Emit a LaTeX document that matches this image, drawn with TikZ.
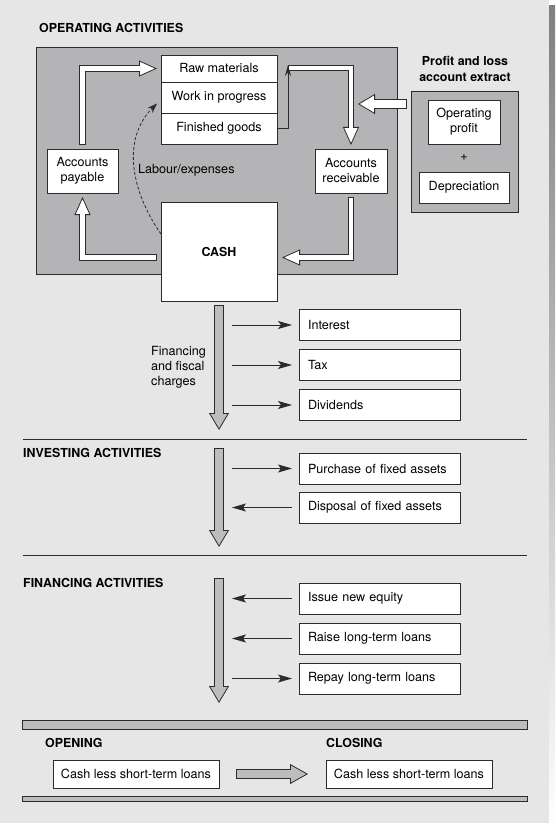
\documentclass[tikz,border=0pt]{standalone}
\usepackage{fontspec}
\setmainfont{TeX Gyre Heros}
\usetikzlibrary{arrows.meta,positioning}

\definecolor{ink}{HTML}{2B2B2B}
\definecolor{panel}{HTML}{E6E6E6}
\definecolor{shade}{HTML}{B9B9B9}
\definecolor{zone}{HTML}{B4B4B6}
\definecolor{flow}{HTML}{BDBDBD}

% fill, outer width, inner width, head width, head length, path
\newcommand\fatarrow[6]{%
  \draw[draw=ink, line width=#2,
    -{Triangle[fill=#1, line width=0.8pt, width=#4, length=#5]}] #6;
  \draw[draw=#1, line width=#3, shorten <=0.8pt, shorten >=#5-1.5pt] #6;}

\begin{document}
\begin{tikzpicture}[x=1pt, y=-1pt, font=\fontsize{12.6}{15}\selectfont,
    box/.style={draw=ink, line width=0.9pt, fill=white, inner sep=0pt, outer sep=0pt, align=center},
    item/.style={box, minimum width=161pt, minimum height=31pt, text width=143pt, inner xsep=9pt, align=left},
    head/.style={font=\fontsize{12.4}{15}\selectfont\bfseries, anchor=base west, inner sep=0pt},
    thin/.style={draw=ink, line width=0.9pt, -{Stealth[length=14pt, width=8pt, inset=3pt]}}]

  % Background
  \fill[shade] (6,6) rectangle (555,829);
  \fill[panel] (0,0) rectangle (549,823);
  \useasboundingbox (0,0) rectangle (555,829);

  % Operating activities
  \node[head] at (39,33) {OPERATING ACTIVITIES};
  \filldraw[fill=zone, draw=ink, line width=0.9pt] (36,47) rectangle (397,274);

  \node[box, minimum width=116pt, minimum height=27pt] (raw) at (219,68.5) {Raw materials};
  \node[box, minimum width=116pt, minimum height=31pt, below=0pt of raw] (wip) {Work in progress};
  \node[box, minimum width=116pt, minimum height=31pt, below=0pt of wip] (fin) {Finished goods};
  \node[box, minimum width=71pt, minimum height=44pt] (pay) at (82.5,171) {Accounts\\payable};
  \node[box, minimum width=72pt, minimum height=44pt] (rec) at (351,171) {Accounts\\receivable};
  \node[box, minimum width=116pt, minimum height=99pt,
    font=\fontsize{12.4}{15}\selectfont\bfseries] (cash) at (219,251.5) {CASH};
  \node[anchor=base west, inner sep=0pt] at (138,174) {Labour/expenses};

  % Profit and loss account extract
  \node[font=\fontsize{12.4}{15.5}\selectfont\bfseries, align=center, inner sep=0pt]
    at (465,69) {Profit and loss\\account extract};
  \node[draw=ink, line width=0.9pt, fill=zone, minimum width=107pt, minimum height=121pt,
    inner sep=0pt, outer sep=0pt] (pl) at (464.5,151.5) {};
  \node[box, minimum width=72pt, minimum height=44pt] (op) at (464,122) {Operating\\profit};
  \node at (464,158) {+};
  \node[box, minimum width=90pt, minimum height=31pt] (dep) at (464,187.5) {Depreciation};

  % Operating cycle
  \coordinate (join) at (288,68);
  \coordinate (plin) at (358,104);
  \fatarrow{white}{6.5pt}{4.9pt}{16pt}{18pt}{([yshift=4pt]pay.north) |- ([xshift=-4pt]raw.west)}
  \fatarrow{white}{6.5pt}{4.9pt}{16pt}{18pt}{([xshift=-4pt,yshift=-6pt]cash.west) -| ([yshift=-4pt]pay.south)}
  \fatarrow{white}{6.5pt}{4.9pt}{16pt}{18pt}{(join) -| ([yshift=4pt]rec.north)}
  \fatarrow{white}{6.5pt}{4.9pt}{16pt}{18pt}{([yshift=-4pt]rec.south) |- ([xshift=5pt,yshift=-6pt]cash.east)}
  \fatarrow{white}{10pt}{8.4pt}{20pt}{17pt}{([xshift=-4pt,yshift=-13pt]pl.north west) -- (plin)}
  \draw[draw=ink, line width=0.9pt, -{Stealth[length=11pt, width=6pt]}]
    (fin.east) -| ([yshift=3pt]join);
  \draw[draw=ink, line width=0.8pt, dash pattern=on 3pt off 2pt, -{Stealth[length=10pt, width=7pt]}]
    ([yshift=-32pt]cash.north west) to[out=125, in=225] ([xshift=-4pt,yshift=-6pt]wip.west);

  % Financing and fiscal charges
  \node[item] (interest) at (379.5,325) {Interest};
  \node[item, below=9pt of interest] (tax) {Tax};
  \node[item, below=9pt of tax] (div) {Dividends};
  \node[align=left, anchor=west, inner sep=0pt] at (151,367) {Financing\\and fiscal\\charges};
  \fatarrow{flow}{9.5pt}{7.9pt}{20pt}{17pt}{([yshift=-4pt]cash.south) -- ++(0,125)}
  \draw[thin] ([xshift=13pt]interest.west -| cash.south) -- ([xshift=-7pt]interest.west);
  \draw[thin] ([xshift=13pt]tax.west -| cash.south) -- ([xshift=-7pt]tax.west);
  \draw[thin] ([xshift=13pt]div.west -| cash.south) -- ([xshift=-7pt]div.west);
  \draw[draw=ink, line width=0.8pt] (23,439) -- (527,439);

  % Investing activities
  \node[head] at (23,457) {INVESTING ACTIVITIES};
  \node[item] (purchase) at (379.5,468.5) {Purchase of fixed assets};
  \node[item, below=8pt of purchase] (disposal) {Disposal of fixed assets};
  \coordinate (invtop) at (219,448);
  \fatarrow{flow}{9.5pt}{7.9pt}{20pt}{17pt}{(invtop) -- ++(0,99)}
  \draw[thin] ([xshift=13pt]purchase.west -| cash.south) -- ([xshift=-7pt]purchase.west);
  \draw[thin] ([xshift=-7pt]disposal.west) -- ([xshift=13pt]disposal.west -| cash.south);
  \draw[draw=ink, line width=0.8pt] (23,555) -- (527,555);

  % Financing activities
  \node[head] at (23,587) {FINANCING ACTIVITIES};
  \node[item] (issue) at (379.5,598.5) {Issue new equity};
  \node[item, below=9pt of issue] (raise) {Raise long-term loans};
  \node[item, below=9pt of raise] (repay) {Repay long-term loans};
  \coordinate (fintop) at (219,578);
  \fatarrow{flow}{9.5pt}{7.9pt}{20pt}{17pt}{(fintop) -- ++(0,125)}
  \draw[thin] ([xshift=-7pt]issue.west) -- ([xshift=13pt]issue.west -| cash.south);
  \draw[thin] ([xshift=-7pt]raise.west) -- ([xshift=13pt]raise.west -| cash.south);
  \draw[thin] ([xshift=13pt]repay.west -| cash.south) -- ([xshift=-7pt]repay.west);

  % Opening and closing
  \filldraw[fill=flow, draw=ink, line width=0.8pt] (22,720) rectangle (527,729);
  \node[head] at (45,747) {OPENING};
  \node[head] at (326,747) {CLOSING};
  \node[box, minimum width=166pt, minimum height=28pt] (open) at (136,774) {Cash less short-term loans};
  \node[box, minimum width=166pt, minimum height=28pt] (close) at (409,774) {Cash less short-term loans};
  \fatarrow{flow}{10pt}{8.4pt}{20pt}{18pt}{([xshift=17pt]open.east) -- ([xshift=-18pt]close.west)}
  \filldraw[fill=flow, draw=ink, line width=0.8pt] (22,796) rectangle (527,801);
\end{tikzpicture}
\end{document}
